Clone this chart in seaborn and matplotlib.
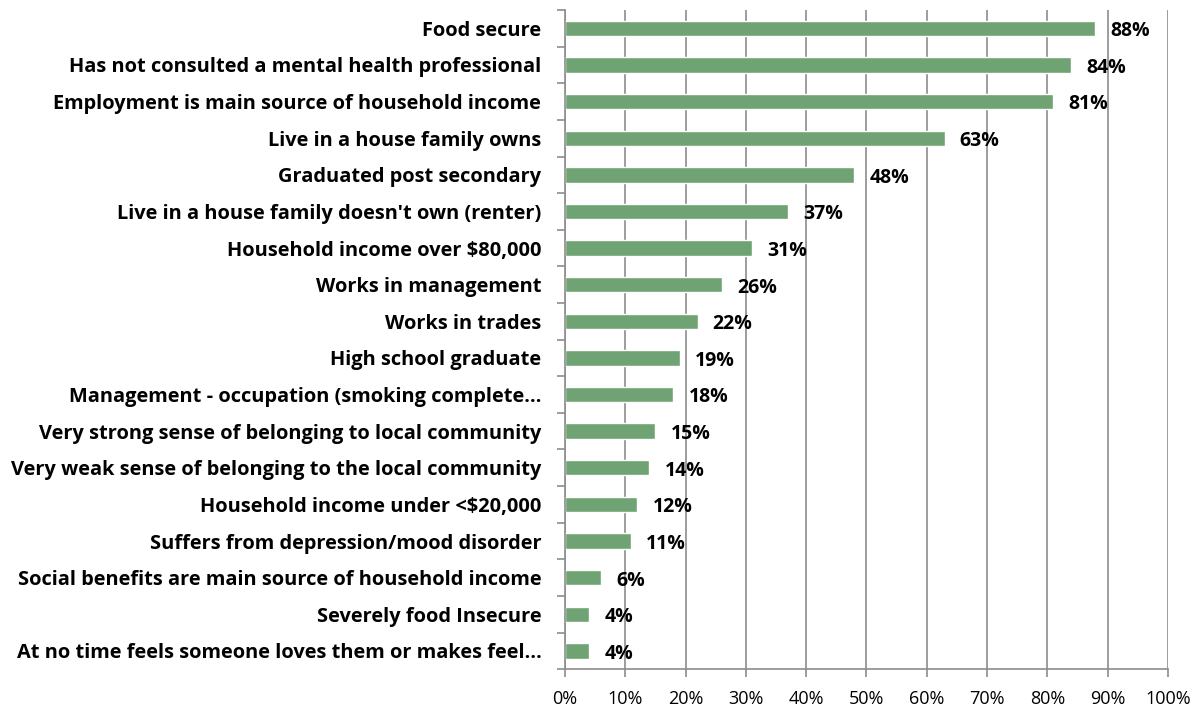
import matplotlib
matplotlib.use('Agg')
import matplotlib.pyplot as plt
import seaborn as sns
import numpy as np
import pandas as pd
from matplotlib.ticker import FixedLocator, PercentFormatter

# Data
categories = [
    'Food secure',
    'Has not consulted a mental health professional',
    'Employment is main source of household income',
    'Live in a house family owns',
    'Graduated post secondary',
    "Live in a house family doesn't own (renter)",
    'Household income over $80,000',
    'Works in management',
    'Works in trades',
    'High school graduate',
    'Management - occupation (smoking complete\u2026',
    'Very strong sense of belonging to local community',
    'Very weak sense of belonging to the local community',
    'Household income under <$20,000',
    'Suffers from depression/mood disorder',
    'Social benefits are main source of household income',
    'Severely food Insecure',
    'At no time feels someone loves them or makes feel\u2026',
]
percentages = [88, 84, 81, 63, 48, 37, 31, 26, 22, 19, 18, 15, 14, 12, 11, 6, 4, 4]
x_ticks = [0, 10, 20, 30, 40, 50, 60, 70, 80, 90, 100]

df = pd.DataFrame({'label': categories, 'pct': percentages})

sns.set_theme(style='white')
plt.rcParams['font.family'] = ['Open Sans', 'DejaVu Sans']

bar_color = '#70A373'
axis_gray = '#8C8C8C'

fig, ax = plt.subplots(figsize=(11.99, 7.15), dpi=100)
fig.subplots_adjust(left=0.4712, right=0.974, top=0.986, bottom=0.064)

sns.barplot(data=df, x='pct', y='label', color=bar_color, saturation=1,
            width=0.42, ax=ax, orient='h')

# value labels (sit slightly below bar centre, as in the original)
for i, v in enumerate(percentages):
    ax.text(v + 2.5, i + 0.08, f'{v}%', va='center', ha='left',
            fontsize=14, fontweight='bold', color='black')

ax.set_xlim(0, 100)
ax.set_ylim(len(categories) - 0.5, -0.5)
ax.set_xlabel('')
ax.set_ylabel('')

# vertical gridlines
ax.set_xticks(x_ticks)
ax.xaxis.set_major_formatter(PercentFormatter(decimals=0))
ax.grid(axis='x', color=axis_gray, linewidth=1.2)
ax.set_axisbelow(True)

# category boundary ticks on the y axis
ax.yaxis.set_minor_locator(FixedLocator(np.arange(-0.5, len(categories), 1)))
ax.tick_params(axis='y', which='major', length=0, pad=17)
ax.tick_params(axis='y', which='minor', left=True, length=6, width=1.2, color=axis_gray)
ax.tick_params(axis='x', which='major', bottom=True, length=6, width=1.2,
               color=axis_gray, pad=9, labelsize=13)
for lbl in ax.get_yticklabels():
    lbl.set_fontweight('bold')
    lbl.set_fontsize(14.4)
    lbl.set_color('black')
for lbl in ax.get_xticklabels():
    lbl.set_color('black')

for side in ['top', 'right']:
    ax.spines[side].set_visible(False)
for side in ['left', 'bottom']:
    ax.spines[side].set_color(axis_gray)
    ax.spines[side].set_linewidth(1.2)

plt.savefig('out.png', dpi=100)
